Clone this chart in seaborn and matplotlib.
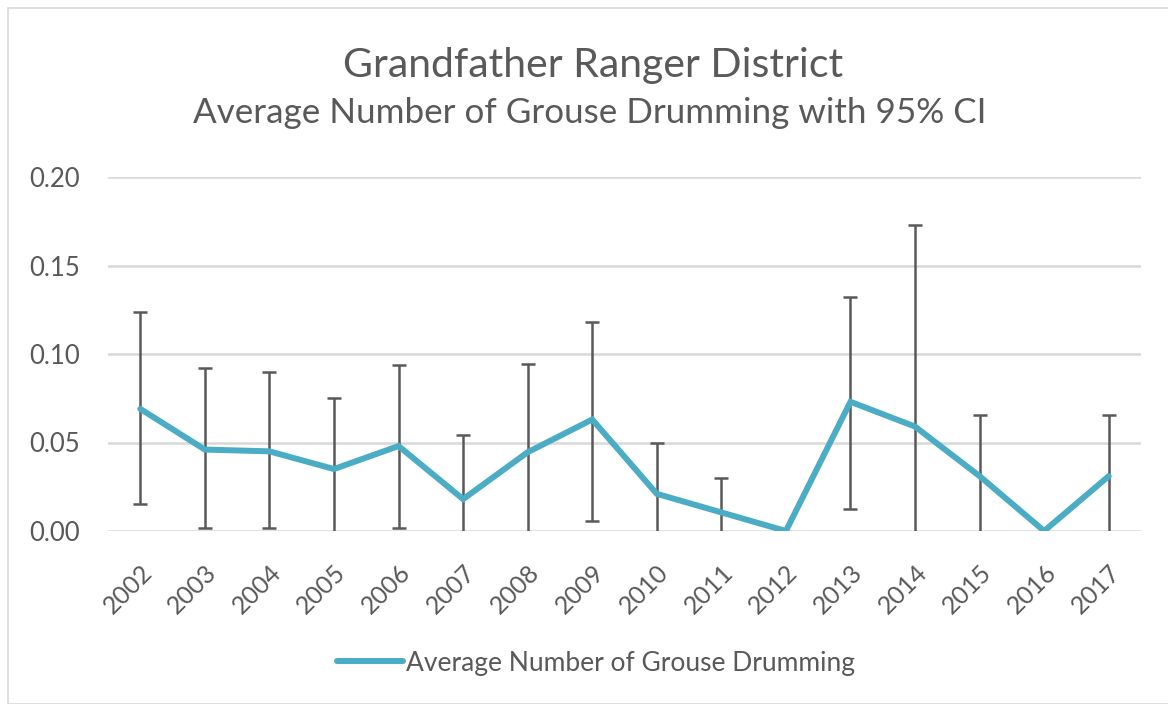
import matplotlib
matplotlib.use("Agg")
import matplotlib.pyplot as plt
import seaborn as sns
import numpy as np
import pandas as pd
from matplotlib.patches import Rectangle

years = ["2002", "2003", "2004", "2005", "2006", "2007", "2008", "2009",
         "2010", "2011", "2012", "2013", "2014", "2015", "2016", "2017"]
avg_drumming = [0.069, 0.046, 0.045, 0.035, 0.048, 0.018, 0.0445, 0.063,
                0.021, 0.0105, 0.0, 0.073, 0.059, 0.031, 0.0, 0.031]
ci_upper = [0.124, 0.092, 0.090, 0.075, 0.094, 0.0545, 0.0945, 0.118,
            0.0495, 0.030, np.nan, 0.132, 0.173, 0.0655, np.nan, 0.0655]
# lower bounds; nan = below the axis minimum (clipped, no cap shown)
ci_lower = [0.0153, 0.0017, 0.0017, np.nan, 0.0017, np.nan, np.nan, 0.0055,
            np.nan, np.nan, np.nan, 0.0125, np.nan, np.nan, np.nan, np.nan]
y_ticks = [0.00, 0.05, 0.10, 0.15, 0.20]

TEXT = "#595959"
LINE = "#4BACC6"
GRID = "#D9D9D9"
BAR = "#595959"

sns.set_theme(style="white")
plt.rcParams["font.family"] = ["Lato", "DejaVu Sans"]

df = pd.DataFrame({"pos": np.arange(len(years)), "year": years,
                   "avg": avg_drumming, "up": ci_upper, "lo": ci_lower})

fig = plt.figure(figsize=(11.68, 7.04), dpi=100)
W, H = 1168, 704
ax = fig.add_axes([108 / W, 1 - 531 / H, (1141 - 108) / W, (531 - 177) / H])

# error bars
has_bar = df["up"].notna()
lo_draw = df["lo"].fillna(-0.01)
ax.vlines(df.loc[has_bar, "pos"], lo_draw[has_bar], df.loc[has_bar, "up"],
          color=BAR, linewidth=1.8, zorder=2)
ax.plot(df.loc[has_bar, "pos"], df.loc[has_bar, "up"], linestyle="none",
        marker="_", markersize=10, markeredgewidth=1.8, color=BAR, zorder=2)
has_lo = df["lo"].notna()
ax.plot(df.loc[has_lo, "pos"], df.loc[has_lo, "lo"], linestyle="none",
        marker="_", markersize=10, markeredgewidth=1.8, color=BAR, zorder=2)

sns.lineplot(data=df, x="pos", y="avg", ax=ax, color=LINE, linewidth=4.3,
             label="Average Number of Grouse Drumming", zorder=3,
             solid_joinstyle="miter", legend=False)

ax.set_xlim(-0.5, len(years) - 0.5)
ax.set_ylim(0, 0.20)
ax.set_yticks(y_ticks)
ax.set_yticklabels([f"{v:.2f}" for v in y_ticks], color=TEXT, fontsize=18.5)
ax.set_xticks(df["pos"])
ax.set_xticklabels(years, rotation=45, ha="right", rotation_mode="anchor",
                   color=TEXT, fontsize=18)
ax.tick_params(axis="both", length=0)
ax.tick_params(axis="y", pad=20)
ax.tick_params(axis="x", pad=21)
ax.grid(axis="y", color=GRID, linewidth=1.8, zorder=0)
ax.set_axisbelow(True)
for s in ax.spines.values():
    s.set_visible(False)
ax.set_xlabel("")
ax.set_ylabel("")

fig.text(593 / W, 1 - 65 / H, "Grandfather Ranger District", ha="center",
         va="center", fontsize=29.5, color=TEXT)
fig.text(590 / W, 1 - 113 / H, "Average Number of Grouse Drumming with 95% CI",
         ha="center", va="center", fontsize=25.2, color=TEXT)

handles, labels = ax.get_lines()[-1:], ["Average Number of Grouse Drumming"]
fig.legend(handles, labels, loc="center", bbox_to_anchor=(596 / W, 1 - 663 / H),
           frameon=False, fontsize=19, handlelength=2.5, handletextpad=0.15,
           labelcolor=TEXT)

fig.patches.append(Rectangle((8 / W, 0), 1 - 8 / W + 0.01, 1 - 8 / H,
                             transform=fig.transFigure, fill=False,
                             edgecolor="#D9D9D9", linewidth=1.2))

fig.savefig("out.png", dpi=100, facecolor="white")
